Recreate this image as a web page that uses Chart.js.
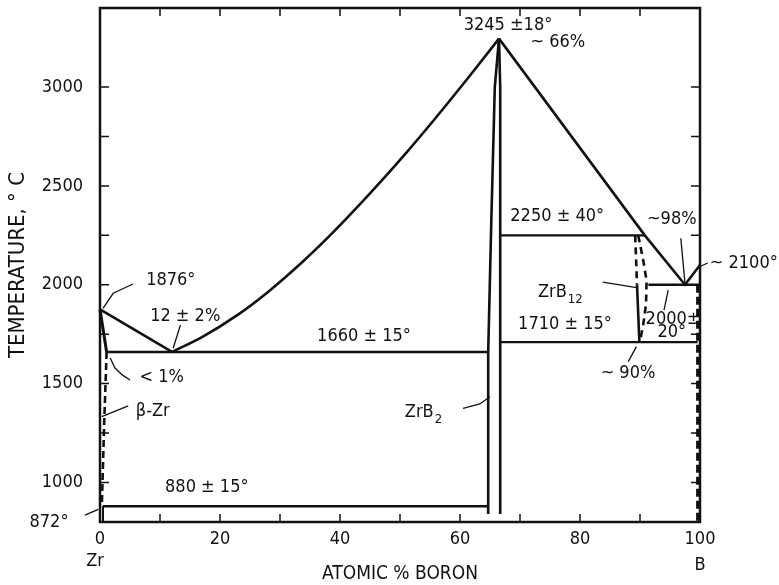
<!DOCTYPE html>
<html>
<head>
<meta charset="utf-8">
<script src="https://cdn.jsdelivr.net/npm/chart.js@4.4.0/dist/chart.umd.min.js"></script>
<style>
  html, body { margin: 0; padding: 0; background: #fff; }
  canvas { display: block; }
</style>
</head>
<body>
<canvas id="phase-chart" width="779" height="585"></canvas>
<script>
// ================================================================
//
// Zr - B phase diagram data (atomic % boron, temperature deg C)
//
// ================================================================

const zrLiquidus = [[0, 1876], [12, 1660]];
const zrb2Liquidus = [[12, 1660], [17, 1735], [23, 1849], [28, 1964], [34, 2123], [39, 2270], [45, 2462], [51, 2666], [56, 2846], [62, 3071], [66.5, 3245]];
const boronLiquidus = [[66.5, 3245], [90.8, 2250], [97.5, 2000], [100, 2100]];
const betaZrSolidus = [[0, 1876], [1.1, 1660]];
const betaZrSolvus = [[1.1, 1660], [0.7, 1300], [0.3, 880]];
const alphaZrEdge = [[0.5, 880], [0.5, 800]];
const zrb2Left = [[64.7, 840], [64.7, 1660], [65.2, 2300], [65.8, 3000], [66.5, 3245]];
const zrb2Right = [[66.7, 840], [66.7, 3000], [66.5, 3245]];
const eutectic1660 = [[1.1, 1660], [64.7, 1660]];
const eutectoid880 = [[0.5, 880], [64.7, 880]];
const peritectic2250 = [[66.7, 2250], [90.8, 2250]];
const eutectoid1710 = [[66.7, 1710], [99.6, 1710]];
const eutectic2000 = [[91.4, 2000], [100, 2000]];
const zrb12LeftDash = [[89.2, 2250], [89.5, 2000]];
const zrb12LeftSolid = [[89.5, 2000], [89.9, 1710]];
const zrb12Right = [[89.7, 2250], [90.5, 2130], [91.1, 2020], [91.0, 1900], [90.5, 1790], [90.0, 1715]];
const boronSolvus = [[99.6, 2000], [99.6, 800]];

// leader lines from the notes to the curves
const leaders = [
  [[0.5, 1881], [2.2, 1957], [5.5, 2004]],
  [[13.4, 1796], [12.2, 1679]],
  [[1.7, 1630], [2.5, 1579], [3.7, 1544], [5, 1518]],
  [[0.3, 1333], [4.7, 1387]],
  [[-2.5, 835], [-0.3, 864]],
  [[60.5, 1375], [63.3, 1397], [65, 1434]],
  [[96.8, 2235], [97.5, 2007]],
  [[99.8, 2090], [101.3, 2110]],
  [[83.8, 2013], [89.7, 1984]],
  [[94.7, 1973], [94, 1872]],
  [[89.4, 1687], [88.05, 1611]]
];

// notes
const noteText = ['1876°', '12 ± 2%', '< 1%', 'β-Zr', '880 ± 15°', '872°', '1660 ± 15°', '3245 ±18°', '~ 66%', '2250 ± 40°', '~98%', '~ 2100°', '1710 ± 15°', '2000±', '20°', '~ 90%'];
const noteX = [11.8, 14.2, 10.3, 8.8, 17.8, -8.5, 44, 68, 76.3, 76.2, 95.3, 107.3, 77.5, 95.5, 95.3, 88];
const noteT = [2024, 1842, 1533, 1361, 977, 800, 1741, 3314, 3228, 2348, 2333, 2110, 1801, 1827, 1761, 1554];

// phase names with subscripts
const phaseName = ['ZrB', 'ZrB'];
const phaseSub = ['2', '12'];
const phaseX = [50.8, 73];
const phaseT = [1356, 1963];

const FONT = "'Liberation Sans Narrow', 'DejaVu Sans Condensed', 'Liberation Sans', sans-serif";

// ================================================================
//
// Build datasets
//
// ================================================================

const toXY = (pts) => pts.map((p) => ({ x: p[0], y: p[1] }));

const line = (pts, width, dash) => ({
  data: toXY(pts),
  showLine: true,
  borderColor: "#111",
  borderWidth: width,
  borderDash: dash || [],
  pointRadius: 0,
  tension: 0,
  clip: false,
});

let liquidusCurve = line(zrb2Liquidus, 2.6);
liquidusCurve.cubicInterpolationMode = "monotone";

let datasets = [
  line(zrLiquidus, 2.6),
  liquidusCurve,
  line(boronLiquidus, 2.6),
  line(betaZrSolidus, 3),
  line(betaZrSolvus, 2.6, [7, 4]),
  line(alphaZrEdge, 2),
  line(zrb2Left, 2.6),
  line(zrb2Right, 2.6),
  line(eutectic1660, 2.4),
  line(eutectoid880, 2.4),
  line(peritectic2250, 2.4),
  line(eutectoid1710, 2.4),
  line(eutectic2000, 2.4),
  line(zrb12LeftDash, 2.6, [7, 5]),
  line(zrb12LeftSolid, 2.6),
  line(zrb12Right, 2.6, [7, 5]),
  line(boronSolvus, 3, [8, 4]),
];
leaders.forEach((l) => datasets.push(line(l, 1.3)));

// ================================================================
//
// Plugin for frame, inward ticks and notes
//
// ================================================================

const phaseDecor = {
  id: "phaseDecor",
  afterDraw(chart) {
    const { ctx, chartArea: a, scales: { x, y } } = chart;
    ctx.save();
    ctx.strokeStyle = "#111";
    ctx.lineWidth = 2.5;
    ctx.strokeRect(a.left, a.top, a.right - a.left, a.bottom - a.top);

    ctx.lineWidth = 1.5;
    ctx.beginPath();
    x.ticks.forEach((t) => {
      if (t.value <= 0 || t.value >= 100) return;
      const px = x.getPixelForValue(t.value);
      ctx.moveTo(px, a.bottom);
      ctx.lineTo(px, a.bottom - 8);
      ctx.moveTo(px, a.top);
      ctx.lineTo(px, a.top + 8);
    });
    y.ticks.forEach((t) => {
      if (t.value % 250 !== 0 || t.value > 3000) return;
      const py = y.getPixelForValue(t.value);
      ctx.moveTo(a.left, py);
      ctx.lineTo(a.left + 9, py);
      ctx.moveTo(a.right, py);
      ctx.lineTo(a.right - 9, py);
    });
    ctx.stroke();

    ctx.fillStyle = "#111";
    ctx.font = "18px " + FONT;
    ctx.textAlign = "center";
    ctx.textBaseline = "middle";
    noteText.forEach((txt, i) => {
      ctx.fillText(txt, x.getPixelForValue(noteX[i]), y.getPixelForValue(noteT[i]));
    });

    ctx.textAlign = "left";
    phaseName.forEach((txt, i) => {
      const px = x.getPixelForValue(phaseX[i]);
      const py = y.getPixelForValue(phaseT[i]);
      ctx.font = "18px " + FONT;
      ctx.fillText(txt, px, py);
      const w = ctx.measureText(txt).width;
      ctx.font = "13px " + FONT;
      ctx.fillText(phaseSub[i], px + w + 1, py + 8);
    });

    ctx.font = "18px " + FONT;
    ctx.textAlign = "center";
    ctx.fillText("Zr", x.getPixelForValue(0) - 5, a.bottom + 39);
    ctx.fillText("B", x.getPixelForValue(100), a.bottom + 43);
    ctx.restore();
  },
};

// ================================================================
//
// Chart
//
// ================================================================

const phaseChart = new Chart(document.getElementById("phase-chart").getContext("2d"), {
  type: "scatter",
  data: { datasets: datasets },
  options: {
    responsive: false,
    animation: false,
    layout: { padding: { top: 8, right: 79, left: 0, bottom: 0 } },
    plugins: { legend: { display: false }, tooltip: { enabled: false } },
    scales: {
      x: {
        type: "linear",
        min: 0,
        max: 100,
        grid: { display: false, drawTicks: false },
        border: { display: false },
        ticks: {
          stepSize: 10,
          autoSkip: false,
          maxRotation: 0,
          padding: 7,
          color: "#111",
          font: { family: FONT, size: 18 },
          callback: (v) => (v % 20 === 0 ? v : ""),
        },
        title: {
          display: true,
          text: "ATOMIC % BORON",
          color: "#111",
          font: { family: FONT, size: 19 },
          padding: { top: 0, bottom: 0 },
        },
        afterFit: (scale) => {
          scale.height = 63;
          scale.paddingLeft = 0;
          scale.paddingRight = 0;
        },
      },
      y: {
        type: "linear",
        min: 800,
        max: 3400,
        grid: { display: false, drawTicks: false },
        border: { display: false },
        ticks: {
          stepSize: 250,
          autoSkip: false,
          padding: 17,
          color: "#111",
          font: { family: FONT, size: 18 },
          callback: (v) => (v % 500 === 0 && v >= 1000 && v <= 3000 ? v : ""),
        },
        title: {
          display: true,
          text: "TEMPERATURE, ° C",
          color: "#111",
          font: { family: FONT, size: 22 },
          padding: { top: 5, bottom: 0 },
        },
        afterFit: (scale) => {
          scale.width = 100;
          scale.paddingTop = 0;
          scale.paddingBottom = 0;
        },
      },
    },
  },
  plugins: [phaseDecor],
});
</script>
</body>
</html>
